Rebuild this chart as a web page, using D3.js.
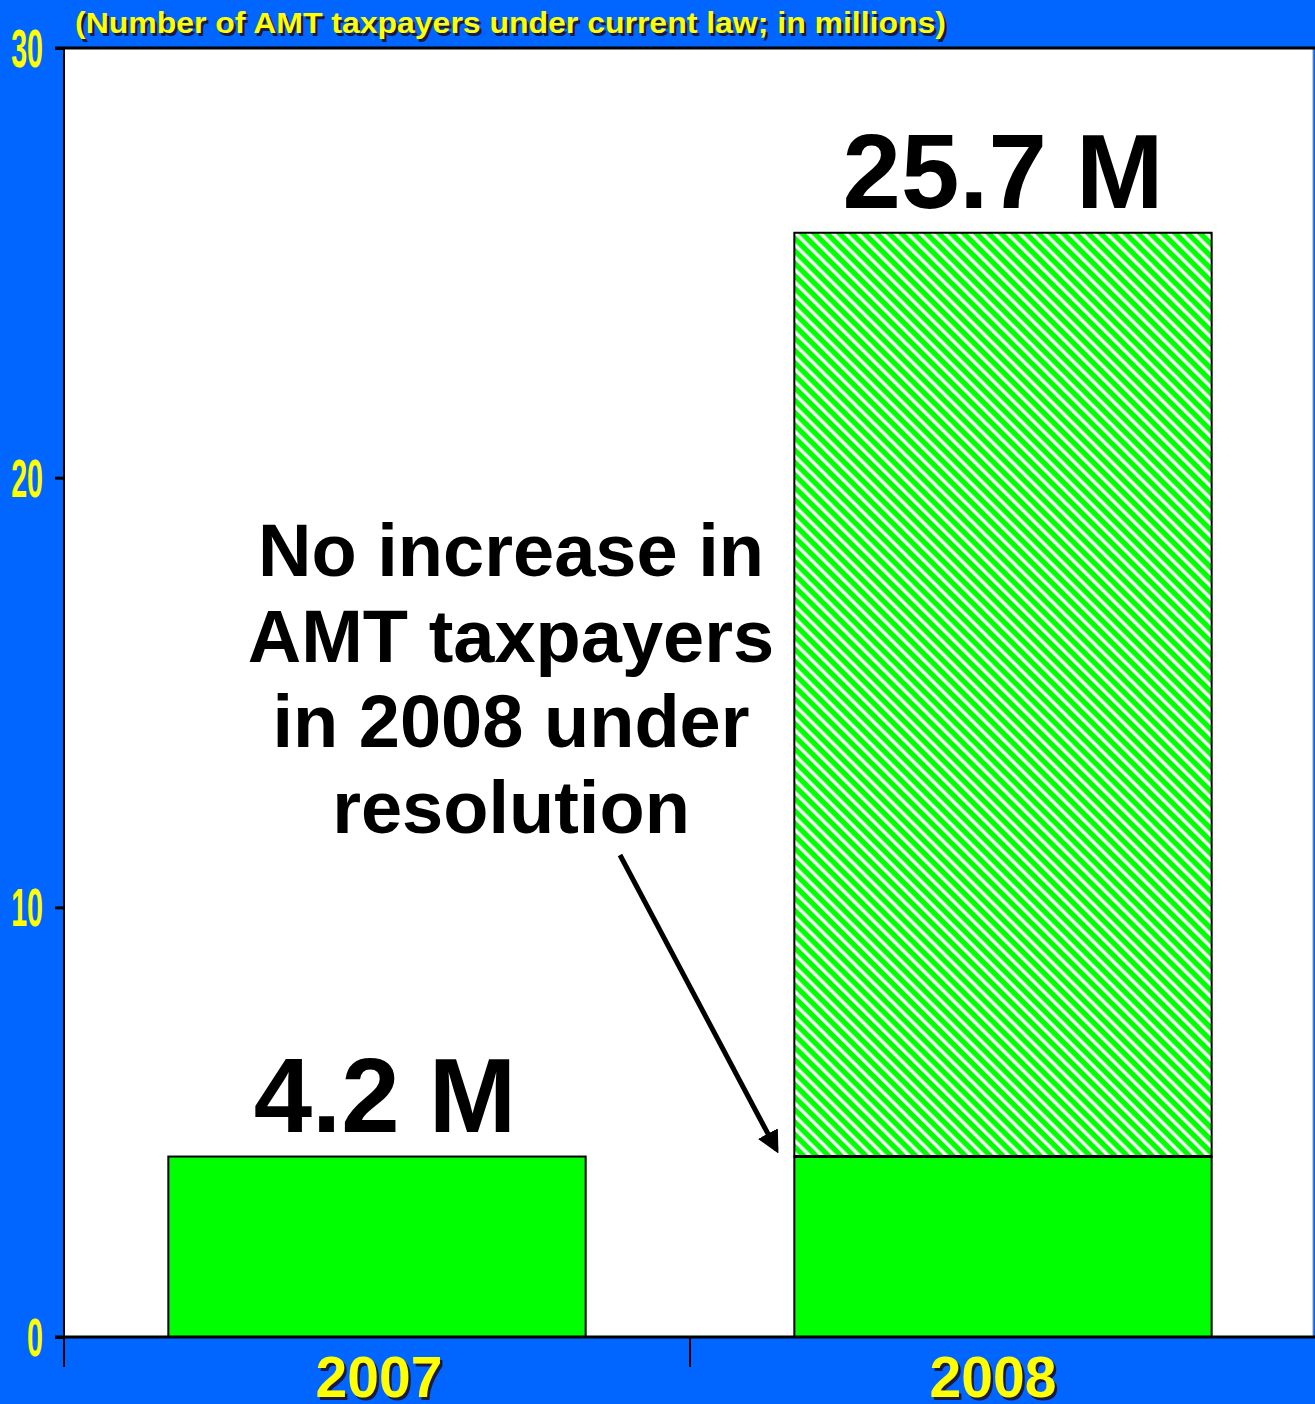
<!DOCTYPE html>
<html><head><meta charset="utf-8">
<script src="https://cdn.jsdelivr.net/npm/d3@7"></script>
<style>html,body{margin:0;padding:0;background:#0066FF;overflow:hidden}svg{display:block}</style>
</head><body>
<script>
const categories = ["2007", "2008"];
const baseValues = [4.2, 4.2];
const increaseValues = [0, 21.5];
const totalLabels = ["4.2 M", "25.7 M"];
const yTicks = [0, 10, 20, 30];
const title = "(Number of AMT taxpayers under current law; in millions)";
const annotationLines = ["No increase in", "AMT taxpayers", "in 2008 under", "resolution"];

const W = 1315, H = 1404;
const margin = {left: 64, right: -1, top: 48, bottom: 67};
const svg = d3.select("body").append("svg").attr("width", W).attr("height", H);

const x = d3.scaleBand().domain(categories).range([margin.left, W - margin.right]).paddingInner(1/3).paddingOuter(1/6);
const y = d3.scaleLinear().domain([0, 30]).range([H - margin.bottom, margin.top]);

const defs = svg.append("defs");
const P = 8.8;
const pat = defs.append("pattern").attr("id", "hatch").attr("patternUnits", "userSpaceOnUse")
  .attr("width", P).attr("height", P).attr("patternTransform", "rotate(-45)");
pat.append("rect").attr("width", P).attr("height", P).attr("fill", "#00FF00");
pat.append("rect").attr("x", 0).attr("width", 3.4).attr("height", P).attr("fill", "#ffffff");

// plot background
svg.append("rect").attr("x", margin.left).attr("y", y(30)).attr("width", W - margin.left - 2).attr("height", y(0) - y(30))
  .attr("fill", "#fff").attr("stroke", "#999").attr("stroke-width", 1);

// bars
categories.forEach((c, i) => {
  svg.append("rect").attr("x", x(c)).attr("y", y(baseValues[i])).attr("width", x.bandwidth())
    .attr("height", y(0) - y(baseValues[i])).attr("fill", "#00FF00").attr("stroke", "#000").attr("stroke-width", 2);
  if (increaseValues[i] > 0) {
    svg.append("rect").attr("x", x(c)).attr("y", y(baseValues[i] + increaseValues[i])).attr("width", x.bandwidth())
      .attr("height", y(baseValues[i]) - y(baseValues[i] + increaseValues[i])).attr("fill", "url(#hatch)").attr("stroke", "#000").attr("stroke-width", 2);
    svg.append("line").attr("x1", x(c)).attr("x2", x(c) + x.bandwidth()).attr("y1", y(baseValues[i])).attr("y2", y(baseValues[i]))
      .attr("stroke", "#000").attr("stroke-width", 3);
  }
  const lblDx = i === 0 ? 8 : 0;
  svg.append("text").attr("x", x(c) + x.bandwidth() / 2 + lblDx).attr("y", y(baseValues[i] + increaseValues[i]) - 25)
    .attr("text-anchor", "middle").attr("font-family", "Liberation Sans, Arial, sans-serif").attr("font-weight", "bold")
    .attr("font-size", 105).attr("fill", "#000").text(totalLabels[i]);
});

// top border
svg.append("line").attr("x1", 55).attr("x2", W).attr("y1", y(30)).attr("y2", y(30)).attr("stroke", "#000").attr("stroke-width", 3);

// y axis
const yAxis = svg.append("g").attr("transform", `translate(${margin.left},0)`)
  .call(d3.axisLeft(y).tickValues(yTicks).tickSize(9).tickFormat(""));
yAxis.select(".domain").remove();
yAxis.selectAll(".tick line").attr("stroke", "#000").attr("stroke-width", 3);
svg.append("line").attr("x1", margin.left).attr("x2", margin.left).attr("y1", y(30) - 1).attr("y2", y(0) + 30)
  .attr("stroke", "#000").attr("stroke-width", 2);
yTicks.forEach(t => {
  svg.append("text").attr("transform", `translate(43,${y(t) + 19}) scale(0.53,1)`)
    .attr("text-anchor", "end").attr("font-family", "Liberation Sans, Arial, sans-serif").attr("font-weight", "bold")
    .attr("font-size", 54).attr("fill", "#FFFF00").text(t);
});

// x axis
svg.append("line").attr("x1", 55).attr("x2", W).attr("y1", y(0)).attr("y2", y(0)).attr("stroke", "#000").attr("stroke-width", 3);
const sep = (x("2007") + x.bandwidth() + x("2008")) / 2;
svg.append("line").attr("x1", sep).attr("x2", sep).attr("y1", y(0)).attr("y2", y(0) + 30).attr("stroke", "#000").attr("stroke-width", 2);

function shadowText(tx, ty, txt, size, anchor, len) {
  const g = svg.append("g");
  [["#1a1a40", 2.5], ["#FFFF00", 0]].forEach(([col, off]) => {
    const t = g.append("text").attr("x", tx + off).attr("y", ty + off).attr("text-anchor", anchor)
      .attr("font-family", "Liberation Sans, Arial, sans-serif").attr("font-weight", "bold")
      .attr("font-size", size).attr("fill", col).text(txt);
    if (len) t.attr("textLength", len).attr("lengthAdjust", "spacingAndGlyphs");
  });
}
const xLabelDx = [2, -10];
categories.forEach((c, i) => shadowText(x(c) + x.bandwidth() / 2 + xLabelDx[i], 1397, c, 57, "middle"));

// title
shadowText(75, 33, title, 29, "start", 871);

// annotation
annotationLines.forEach((l, i) => {
  svg.append("text").attr("x", 511).attr("y", 576 + i * 85.7).attr("text-anchor", "middle")
    .attr("font-family", "Liberation Sans, Arial, sans-serif").attr("font-weight", "bold")
    .attr("font-size", 74).attr("fill", "#000").text(l);
});

// arrow
defs.append("marker").attr("id", "ah").attr("viewBox", "0 0 10 10").attr("refX", 8).attr("refY", 5)
  .attr("markerWidth", 4.5).attr("markerHeight", 4.5).attr("markerUnits", "strokeWidth").attr("orient", "auto")
  .append("path").attr("d", "M0,0 L10,5 L0,10 z").attr("fill", "#000");
svg.append("line").attr("x1", 620).attr("y1", 855).attr("x2", x("2008") - 18).attr("y2", y(baseValues[1]) - 7)
  .attr("stroke", "#000").attr("stroke-width", 5).attr("marker-end", "url(#ah)");
</script>
</body></html>
